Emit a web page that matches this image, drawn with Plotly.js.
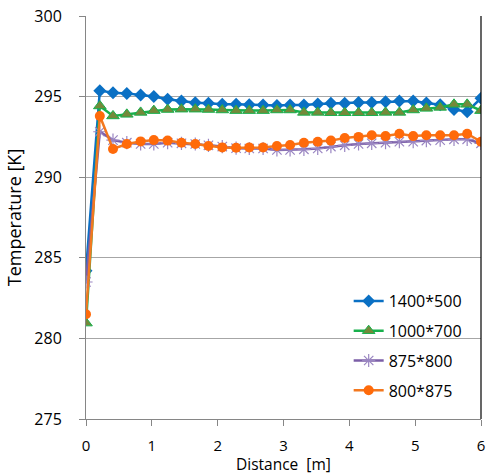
<!DOCTYPE html>
<html>
<head>
<meta charset="utf-8">
<script src="https://cdn.plot.ly/plotly-3.0.1.min.js"></script>
<style>html,body{margin:0;padding:0;background:#fff}#chart{width:486px;height:475px}</style>
</head>
<body>
<div id="chart"></div>
<script>
var distance = [0, 0.21, 0.41, 0.62, 0.83, 1.03, 1.24, 1.45, 1.66, 1.86, 2.07, 2.28, 2.48, 2.69, 2.90,
                3.10, 3.31, 3.52, 3.72, 3.93, 4.14, 4.34, 4.55, 4.76, 4.97, 5.17, 5.38, 5.59, 5.79, 6.0];
var names = ["1400*500", "1000*700", "875*800", "800*875"];
var t1400x500 = [284.2, 295.37, 295.24, 295.2, 295.1, 295.0, 294.83, 294.73, 294.62, 294.58, 294.52, 294.52, 294.5, 294.48, 294.45,
                 294.48, 294.48, 294.54, 294.58, 294.58, 294.64, 294.64, 294.68, 294.73, 294.73, 294.6, 294.5, 294.2, 294.06, 294.9];
var t1000x700 = [280.95, 294.42, 293.8, 293.9, 294.02, 294.13, 294.2, 294.22, 294.22, 294.2, 294.17, 294.13, 294.13, 294.13, 294.17,
                 294.17, 294.02, 294.02, 294.0, 294.0, 294.0, 294.0, 294.02, 294.02, 294.17, 294.27, 294.33, 294.52, 294.52, 294.13];
var t875x800 = [283.5, 292.82, 292.3, 292.14, 292.06, 292.06, 292.14, 292.1, 292.06, 291.98, 291.9, 291.8, 291.78, 291.78, 291.69,
                291.69, 291.73, 291.78, 291.9, 291.98, 292.06, 292.1, 292.14, 292.2, 292.2, 292.27, 292.3, 292.35, 292.35, 292.1];
var t800x875 = [281.5, 293.8, 291.75, 292.06, 292.22, 292.3, 292.27, 292.14, 292.06, 291.94, 291.85, 291.83, 291.85, 291.85, 291.94,
                292.0, 292.14, 292.2, 292.27, 292.43, 292.5, 292.6, 292.55, 292.7, 292.55, 292.6, 292.6, 292.6, 292.7, 292.2];
var xTicks = [0, 1, 2, 3, 4, 5, 6];
var yTicks = [275, 280, 285, 290, 295, 300];
var xTitle = "Distance  [m]";
var yTitle = "Temperature [K]";

var FONT = "Open Sans, Noto Sans, sans-serif";
var traces = [
  {x: distance, y: t1400x500, name: names[0], legendgroup: "a", mode: "lines+markers",
   line: {color: "#0A70C4", width: 2.5},
   marker: {symbol: "diamond", size: 10, color: "#0A70C4"}},
  {x: distance, y: t1000x700, name: names[1], legendgroup: "b", mode: "lines+markers",
   line: {color: "#18B04C", width: 2.5},
   marker: {symbol: "triangle-up", size: 11, color: "#74893A", line: {color: "#18B04C", width: 1}}},
  {x: distance, y: t875x800, name: names[2], legendgroup: "c", mode: "lines+markers",
   line: {color: "#7B5EA7", width: 2.5},
   marker: {symbol: "asterisk-open", size: 11, color: "#9A86C2", line: {color: "#9A86C2", width: 1.2}}},
  {x: distance, y: t800x875, name: names[3], legendgroup: "d", mode: "lines+markers",
   line: {color: "#F3781F", width: 2.5},
   marker: {symbol: "circle", size: 10, color: "#FF6A0A"}}
];

var layout = {
  width: 486, height: 475,
  margin: {l: 86, r: 5, t: 16, b: 56},
  paper_bgcolor: "#ffffff", plot_bgcolor: "#ffffff",
  font: {family: FONT, size: 16, color: "#404040"},
  showlegend: true,
  legend: {x: 0.665, y: 0.335, xanchor: "left", yanchor: "top", bgcolor: "rgba(0,0,0,0)",
           font: {family: FONT, size: 16, color: "#000000"}, tracegroupgap: 6},
  xaxis: {range: [0, 6], tickvals: xTicks, ticktext: xTicks.map(String), automargin: false,
          showgrid: false, zeroline: false, showline: true, linecolor: "#868686", linewidth: 1,
          ticks: "outside", ticklen: 6, tickcolor: "#868686", ticklabelstandoff: 7,
          tickfont: {family: FONT, size: 15, color: "#000000"}},
  yaxis: {range: [275, 300], tickvals: yTicks, ticktext: yTicks.map(String),
          showgrid: true, gridcolor: "#A6A6A6", gridwidth: 1, zeroline: false,
          showline: true, linecolor: "#868686", linewidth: 1,
          ticks: "outside", ticklen: 6, tickcolor: "#868686", ticklabelstandoff: 14,
          tickfont: {family: FONT, size: 16, color: "#000000"},
          title: {text: yTitle, font: {family: FONT, size: 18, color: "#000000"}, standoff: 8}},
  annotations: [{text: xTitle, xref: "paper", yref: "paper", x: 0.5, y: -0.112,
                 xanchor: "center", yanchor: "middle", showarrow: false,
                 font: {family: FONT, size: 15.5, color: "#000000"}}],
  shapes: [{type: "line", xref: "paper", yref: "paper", x0: 1, x1: 1, y0: 0, y1: 1,
            line: {color: "#000000", width: 1.2}}]
};
Plotly.newPlot("chart", traces, layout, {displayModeBar: false, staticPlot: true});
</script>
</body>
</html>
